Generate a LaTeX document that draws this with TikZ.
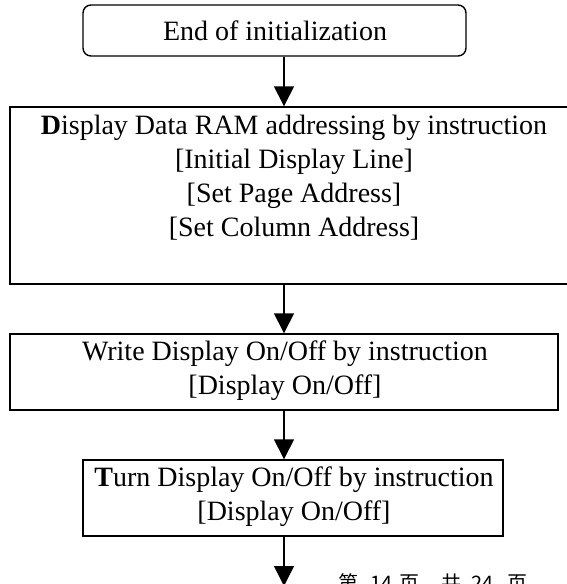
\documentclass[tikz,border=0pt]{standalone}
\usepackage{fontspec}
\setmainfont{Liberation Serif}
\newfontfamily\cjkfont{Noto Sans CJK SC}
\usetikzlibrary{arrows.meta}
\tikzset{
  boxshape/.style={draw, line width=1.4pt, inner sep=0pt, minimum width=#1},
  roundbox/.style={draw, line width=1.4pt, inner sep=0pt, rounded corners=8pt},
  txt/.style={inner sep=0pt, anchor=base, font=\fontsize{28pt}{34pt}\selectfont},
  arr/.style={line width=1.4pt, -{Triangle[width=20pt,length=20pt]}},
  pagenum/.style={inner sep=0pt, anchor=base west, font=\cjkfont\fontsize{20pt}{22pt}\selectfont}
}
\begin{document}
\begin{tikzpicture}[x=1pt,y=-1pt]
\useasboundingbox (0,0) rectangle (567,584);
\clip (0,0) rectangle (567,584);
% boxes
\node[roundbox, minimum width=383pt, minimum height=51pt] (top) at (274.5,30.5) {};
\node[boxshape=568pt, minimum height=177pt] (b2) at (294,195.5) {};
\node[boxshape=548pt, minimum height=76pt] (b3) at (284,372) {};
\node[boxshape=420pt, minimum height=76pt] (b4) at (293,498) {};
% texts
\node[txt] (t1) at (275,40) {End of initialization};
\node[txt] (t21) at (294,134) {\textbf{D}isplay Data RAM addressing by instruction};
\node[txt] (t22) at (294,168) {[Initial Display Line]};
\node[txt] (t23) at (294,202) {[Set Page Address]};
\node[txt] (t24) at (294,236) {[Set Column Address]};
\node[txt] (t31) at (285,360) {Write Display On/Off by instruction};
\node[txt] (t32) at (285,394) {[Display On/Off]};
\node[txt] (t41) at (294,486) {\textbf{T}urn Display On/Off by instruction};
\node[txt] (t42) at (294,520) {[Display On/Off]};
\node[pagenum] (pg) at (338,590) {第\hspace{12pt}14\hspace{7pt}页\hspace{22pt}共\hspace{10pt}24\hspace{14pt}页};
% connectors
\coordinate (ax) at (284,0);
\coordinate (endpt) at (284,586);
\draw[arr] (top.south -| ax) -- (b2.north -| ax);
\draw[arr] (b2.south -| ax) -- (b3.north -| ax);
\draw[arr] (b3.south -| ax) -- (b4.north -| ax);
\draw[arr] (b4.south -| ax) -- (endpt);
\end{tikzpicture}
\end{document}
